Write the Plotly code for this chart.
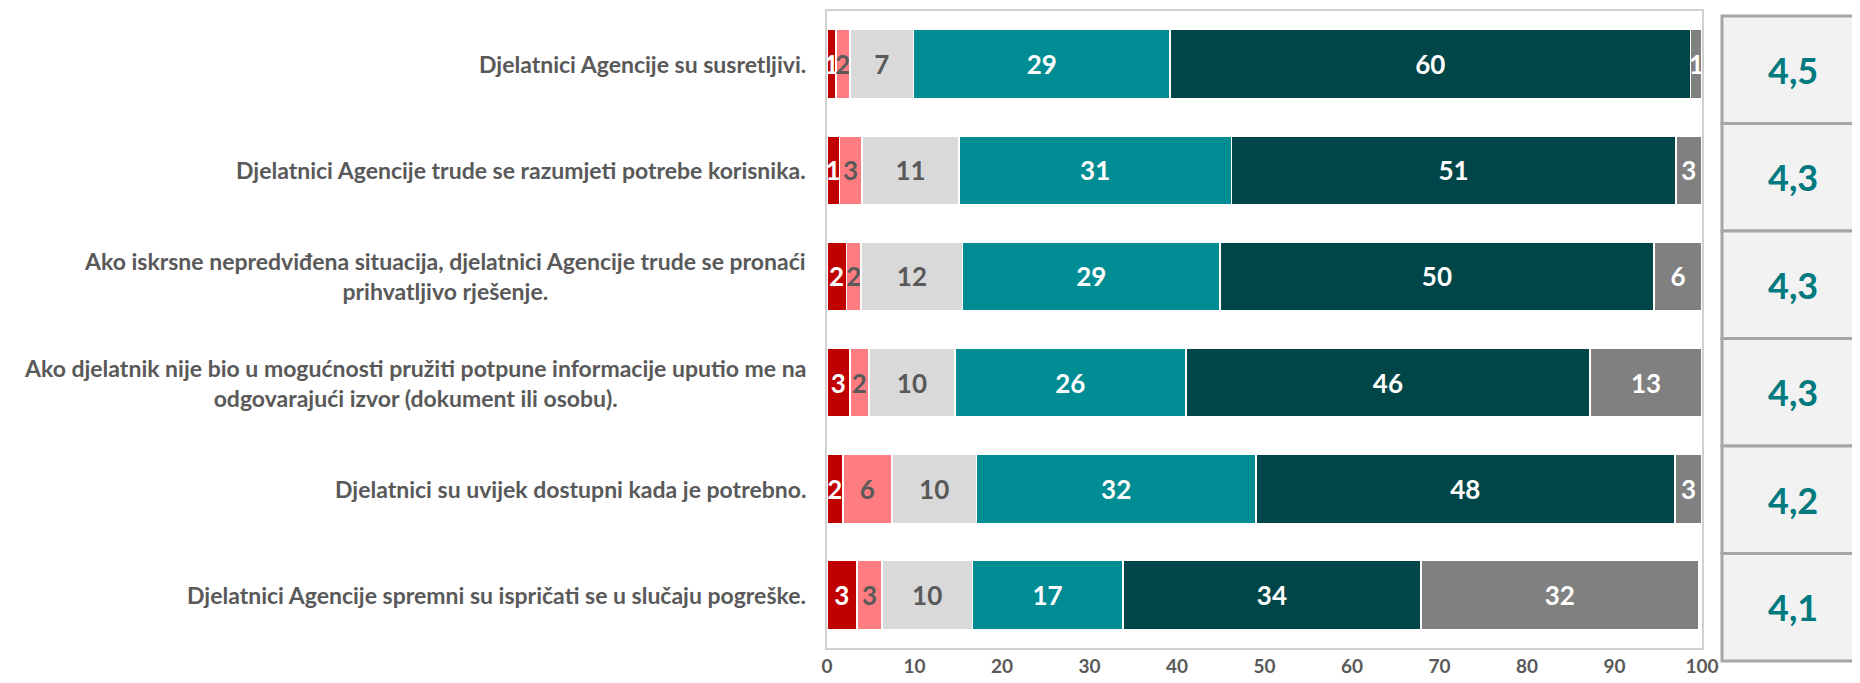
import plotly.graph_objects as go

categories = [
    "Djelatnici Agencije su susretljivi.",
    "Djelatnici Agencije trude se razumjeti potrebe korisnika.",
    "Ako iskrsne nepredviđena situacija, djelatnici Agencije trude se pronaći<br>prihvatljivo rješenje.",
    "Ako djelatnik nije bio u mogućnosti pružiti potpune informacije uputio me na<br>odgovarajući izvor (dokument ili osobu).",
    "Djelatnici su uvijek dostupni kada je potrebno.",
    "Djelatnici Agencije spremni su ispričati se u slučaju pogreške.",
]

series_names = ["1", "2", "3", "4", "5", "Ne znam"]
v1 = [1.0, 1.4, 2.2, 2.6, 1.8, 3.4]
v2 = [1.6, 2.6, 1.7, 2.2, 5.6, 2.9]
v3 = [7.3, 11.1, 11.6, 9.8, 9.7, 10.3]
v4 = [29.3, 31.1, 29.4, 26.4, 31.9, 17.2]
v5 = [59.5, 50.8, 49.6, 46.2, 47.9, 34.1]
v6 = [1.3, 3.0, 5.5, 12.8, 3.1, 31.7]
scores = ["4,5", "4,3", "4,3", "4,3", "4,2", "4,1"]
x_ticks = [0, 10, 20, 30, 40, 50, 60, 70, 80, 90, 100]

colors = ["#C00000", "#FF7C80", "#D9D9D9", "#008C93", "#004649", "#808080"]
text_colors = ["white", "#595959", "#595959", "white", "white", "white"]
series = [v1, v2, v3, v4, v5, v6]

FONT = "Lato, 'Open Sans', sans-serif"

fig = go.Figure()
for name, vals, col, tcol in zip(series_names, series, colors, text_colors):
    fig.add_trace(go.Bar(
        y=categories, x=vals, name=name, orientation="h",
        marker=dict(color=col, line=dict(color="white", width=1.5)),
        text=vals, texttemplate="<b>%{x:.0f}</b>", textposition="inside",
        insidetextanchor="middle", constraintext="none",
        textfont=dict(color=tcol, size=26, family=FONT),
        cliponaxis=False,
    ))

# page offset (body margin) of 8px is compensated
OFF = 8
W, H = 1860, 683
L, R, T, B = 827 - OFF, W - (1702 - OFF), 9 - OFF, H - (648 - OFF)
ph = H - T - B
pw = W - L - R

annotations = []
for c in categories:
    annotations.append(dict(
        x=-19 / pw, xref="paper", y=c, yref="y", text="<b>" + c + "</b>",
        xanchor="right", yanchor="middle", align="center", showarrow=False,
        font=dict(size=23, color="#595959", family=FONT),
    ))

shapes = []
box_top = H - (14 - OFF)
box_bot = H - (661 - OFF)
bh = (box_top - box_bot) / 6
for i, s in enumerate(scores):
    y1p = (box_top - i * bh - B) / ph
    y0p = (box_top - (i + 1) * bh - B) / ph
    shapes.append(dict(type="rect", xref="paper", yref="paper",
                       x0=(1722 - OFF - L) / pw, x1=(1920 - L) / pw, y0=y0p, y1=y1p,
                       fillcolor="#F2F2F2", line=dict(color="#A6A6A6", width=3),
                       layer="below"))
    annotations.append(dict(
        x=(1793 - OFF - L) / pw, xref="paper", y=(y0p + y1p) / 2, yref="paper",
        text="<b>" + s + "</b>", showarrow=False, xanchor="center", yanchor="middle",
        font=dict(size=36, color="#00797F", family=FONT),
    ))

fig.update_layout(
    barmode="stack", bargap=0.35, showlegend=False,
    width=W, height=H, margin=dict(l=L, r=R, t=T, b=B, pad=0),
    plot_bgcolor="white", paper_bgcolor="white",
    uniformtext=dict(minsize=26, mode="show"),
    annotations=annotations, shapes=shapes,
    font=dict(family=FONT),
)
fig.update_xaxes(range=[0, 100], tickvals=x_ticks, ticktext=["<b>%d</b>" % t for t in x_ticks],
                 showgrid=False, zeroline=False, showline=True, mirror=True,
                 linecolor="#D0D0D0", linewidth=2, ticks="", ticklen=0,
                 tickfont=dict(size=19, color="#595959", family=FONT))
fig.update_yaxes(autorange="reversed", showticklabels=False, showgrid=False,
                 showline=True, mirror=True, linecolor="#D0D0D0", linewidth=2, ticks="")

fig.write_html("out.html")
